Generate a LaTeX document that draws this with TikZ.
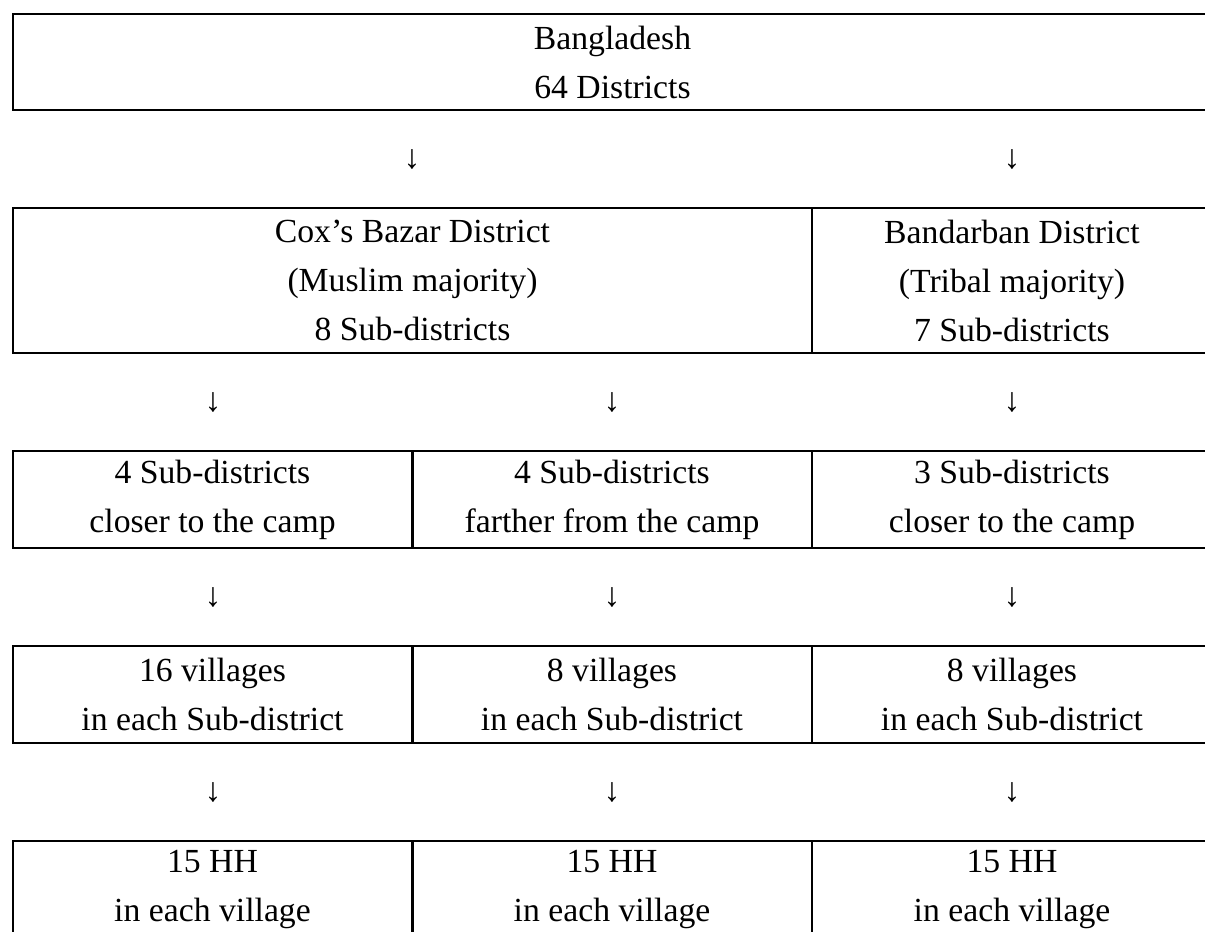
\documentclass[tikz,border=0pt]{standalone}
\usepackage{fontspec}
\setmainfont{Liberation Serif}
\newlength{\pxu}
\setlength{\pxu}{0.356pt}
\usetikzlibrary{positioning}

\begin{document}
\begin{tikzpicture}[x=0.356pt,y=-0.356pt,inner sep=0pt,outer sep=0pt,
  cell/.style={draw,line width=2\pxu,minimum width=400\pxu,minimum height=97\pxu,
    align=center,font=\fontsize{12}{17.45}\selectfont},
  dn/.style={font=\fontsize{12}{17.45}\selectfont}]
\useasboundingbox (0,0) rectangle (1205,931);
\clip (0,0) rectangle (1205,931);
% top row
\node[cell,minimum width=1199\pxu,minimum height=96\pxu] (bd) at (612.5,62) {Bangladesh\\64 Districts};
\node[dn] (arBD1) at (412,160) {↓};
\node[dn] (arBD2) at (1012,160) {↓};
% districts
\node[cell,minimum width=799\pxu,minimum height=145\pxu] (cox) at (412.5,280.5) {Cox’s Bazar District\\(Muslim majority)\\8 Sub-districts};
\node[cell,minimum height=145\pxu] (band) at (1012,280.5) {Bandarban District\\(Tribal majority)\\7 Sub-districts};
\node[dn] (arD1) at (213,403) {↓};
\node[dn] (arD2) at (612,403) {↓};
\node[dn] (arD3) at (1012,403) {↓};
% sub-districts
\node[cell] (coxnear) at (212.5,499.5) {4 Sub-districts\\closer to the camp};
\node[cell] (coxfar) at (612,499.5) {4 Sub-districts\\farther from the camp};
\node[cell] (bandnear) at (1012,499.5) {3 Sub-districts\\closer to the camp};
\node[dn] (arS1) at (213,598) {↓};
\node[dn] (arS2) at (612,598) {↓};
\node[dn] (arS3) at (1012,598) {↓};
% villages
\node[cell] (vilnear) at (212.5,694.5) {16 villages\\in each Sub-district};
\node[cell] (vilfar) at (612,694.5) {8 villages\\in each Sub-district};
\node[cell] (vilband) at (1012,694.5) {8 villages\\in each Sub-district};
\node[dn] (arV1) at (213,793) {↓};
\node[dn] (arV2) at (612,793) {↓};
\node[dn] (arV3) at (1012,793) {↓};
% households
\node[cell] (hhnear) at (212.5,889.5) {15 HH\\in each village};
\node[cell] (hhfar) at (612,889.5) {15 HH\\in each village};
\node[cell] (hhband) at (1012,889.5) {15 HH\\in each village};
\end{tikzpicture}
\end{document}
